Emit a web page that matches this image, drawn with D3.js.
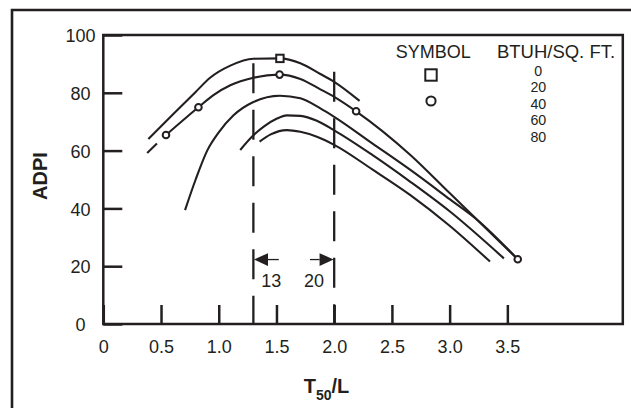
<!DOCTYPE html>
<html>
<head>
<meta charset="utf-8">
<script src="https://cdn.jsdelivr.net/npm/d3@7"></script>
<style>
  html, body { margin: 0; padding: 0; background: #ffffff; }
  svg { display: block; }
  text { font-family: "Liberation Sans", Arial, Helvetica, sans-serif; fill: #231f20; }
</style>
</head>
<body>
<svg id="chart" width="631" height="408"></svg>
<script>
// ---------- data ----------
const xTickValues = [0, 0.5, 1.0, 1.5, 2.0, 2.5, 3.0, 3.5];
const xTickLabels = ["0", "0.5", "1.0", "1.5", "2.0", "2.5", "3.0", "3.5"];
const yTickValues = [0, 20, 40, 60, 80, 100];
const yTickLabels = ["0", "20", "40", "60", "80", "100"];

// curve for 0 BTUH/sq.ft. (square)
const curve0 = [[0.39,64.0],[0.60,72.4],[0.80,80.3],[0.925,85.2],[1.10,89.4],[1.30,91.8],[1.53,91.9],[1.707,90.2],[1.88,86.5],[2.00,83.8],[2.22,77.2]];
// curve for 20 BTUH/sq.ft. (circles)
const curve1Dash = [[0.38,59.2],[0.543,65.4]];
const curve1 = [[0.543,65.4],[0.824,75.0],[0.954,79.2],[1.10,82.6],[1.30,85.2],[1.527,86.3],[1.707,84.8],[1.88,81.2],[2.00,78.6],[2.19,73.6],[2.66,58.5],[3.00,45.3],[3.24,36.0],[3.59,22.4]];
const curve2 = [[0.708,39.4],[0.80,50.0],[0.90,60.0],[1.00,66.3],[1.128,72.2],[1.30,76.8],[1.53,79.0],[1.707,78.1],[1.88,74.6],[2.00,71.7],[2.33,62.5],[2.66,53.3],[3.00,43.2],[3.24,36.0],[3.59,22.4]];
const curve3 = [[1.186,60.2],[1.30,65.3],[1.39,68.3],[1.50,71.0],[1.59,72.2],[1.707,72.0],[1.85,70.3],[2.00,67.0],[2.33,58.5],[2.66,49.2],[3.00,39.0],[3.47,22.7]];
const curve4 = [[1.354,63.1],[1.45,65.6],[1.59,67.1],[1.707,66.5],[1.85,64.8],[2.00,62.0],[2.33,53.5],[2.66,44.6],[3.00,34.0],[3.35,21.6]];

const squareMarkers = [[1.53, 91.9]];
const circleMarkers = [[0.543,65.4],[0.824,75.0],[1.527,86.3],[2.19,73.6],[3.59,22.4]];

// dashed reference lines: [x, top ADPI]
const refLines = [[1.3, 90.2], [2.0, 87.3]];
// dimension arrows: [from x, to x, y, label, label x]
const arrows = [[1.52, 1.3, 22.3, "13", 1.455], [1.79, 2.0, 22.3, "20", 1.825]];

const legendSymbols = ["square", "circle"];
const legendValues = ["0", "20", "40", "60", "80"];

// ---------- drawing ----------
const W = 631, H = 408;
const ink = "#231f20";
const svg = d3.select("#chart");

const x = d3.scaleLinear().domain([0, 4.5]).range([103.3, 622.8]);
const y = d3.scaleLinear().domain([0, 100]).range([324, 35]);

// outer frame (cropped at right/bottom)
svg.append("path")
  .attr("d", `M12,${H + 5} L12,10 L${W + 5},10`)
  .attr("fill", "none").attr("stroke", ink).attr("stroke-width", 2.6);

// plot frame
svg.append("rect")
  .attr("x", x(0)).attr("y", y(100))
  .attr("width", x(4.5) - x(0)).attr("height", y(0) - y(100))
  .attr("fill", "none").attr("stroke", ink).attr("stroke-width", 2.5);

// y axis
const yAxis = svg.append("g")
  .attr("transform", `translate(${x(0)},0)`)
  .call(d3.axisLeft(y).tickValues(yTickValues).tickSize(-19)
        .tickFormat((d, i) => yTickLabels[i]));
yAxis.select(".domain").remove();
yAxis.selectAll(".tick line").attr("stroke", ink).attr("stroke-width", 2.5);
yAxis.selectAll(".tick text")
  .attr("x", -22.8).attr("dy", null).attr("y", 6.6)
  .attr("text-anchor", "middle")
  .style("font-size", "18px")
  .attr("fill", ink);

// x axis
const xAxis = svg.append("g")
  .attr("transform", `translate(0,${y(0)})`)
  .call(d3.axisBottom(x).tickValues(xTickValues).tickSize(-19)
        .tickFormat((d, i) => xTickLabels[i]));
xAxis.select(".domain").remove();
xAxis.selectAll(".tick line").attr("stroke", ink).attr("stroke-width", 2.5);
xAxis.selectAll(".tick text")
  .attr("y", 29.3).attr("dy", null)
  .attr("text-anchor", "middle")
  .style("font-size", "18px")
  .attr("fill", ink);
svg.selectAll("g").attr("font-family", null).attr("font-size", null);

// axis titles
svg.append("text")
  .attr("transform", `translate(46.5,176) rotate(-90)`)
  .attr("text-anchor", "middle")
  .style("font-size", "20px").style("font-weight", "bold")
  .text("ADPI");

const xt = svg.append("text")
  .attr("x", 326.5).attr("y", 393)
  .attr("text-anchor", "middle")
  .style("font-size", "20px").style("font-weight", "bold");
xt.append("tspan").text("T");
xt.append("tspan").attr("dy", 7).style("font-size", "14px").text("50");
xt.append("tspan").attr("dy", -7).text("/L");

// dashed reference lines
svg.selectAll(".ref").data(refLines).enter().append("line")
  .attr("class", "ref")
  .attr("x1", d => x(d[0])).attr("x2", d => x(d[0]))
  .attr("y1", d => y(d[1])).attr("y2", y(0))
  .attr("stroke", ink).attr("stroke-width", 2.3)
  .attr("stroke-dasharray", "30,16.5");

// curves
const line = d3.line().x(d => x(d[0])).y(d => y(d[1])).curve(d3.curveMonotoneX);
[curve0, curve1, curve2, curve3, curve4].forEach(c => {
  svg.append("path").attr("d", line(c))
    .attr("fill", "none").attr("stroke", ink).attr("stroke-width", 2.1)
    .attr("stroke-linecap", "butt");
});
svg.append("path").attr("d", d3.line().x(d => x(d[0])).y(d => y(d[1]))(curve1Dash))
  .attr("fill", "none").attr("stroke", ink).attr("stroke-width", 2.1)
  .attr("stroke-dasharray", "13.5,30");

// markers
svg.selectAll(".sq").data(squareMarkers).enter().append("rect")
  .attr("class", "sq")
  .attr("x", d => x(d[0]) - 3.7).attr("y", d => y(d[1]) - 3.7)
  .attr("width", 7.4).attr("height", 7.4)
  .attr("fill", "#fff").attr("stroke", ink).attr("stroke-width", 2);
svg.selectAll(".ci").data(circleMarkers).enter().append("circle")
  .attr("class", "ci")
  .attr("cx", d => x(d[0])).attr("cy", d => y(d[1])).attr("r", 3.3)
  .attr("fill", "#fff").attr("stroke", ink).attr("stroke-width", 2);

// dimension arrows
arrows.forEach(a => {
  const x0 = x(a[0]), x1 = x(a[1]), yy = y(a[2]);
  const dir = Math.sign(x1 - x0);
  const tip = x1 - dir * 0.6;
  const base = tip - dir * 14;
  svg.append("line").attr("x1", x0).attr("x2", base).attr("y1", yy).attr("y2", yy)
    .attr("stroke", ink).attr("stroke-width", 1.3);
  svg.append("path")
    .attr("d", `M${tip},${yy} L${base},${yy - 6.4} L${base},${yy + 6.4} Z`)
    .attr("fill", ink);
  svg.append("text").attr("x", x(a[4])).attr("y", yy + 27.5)
    .attr("text-anchor", "middle").style("font-size", "18px").text(a[3]);
});

// legend
svg.append("text").attr("x", 433.3).attr("y", 58.3)
  .attr("text-anchor", "middle").style("font-size", "18px").text("SYMBOL");
svg.append("text").attr("x", 556).attr("y", 58.3)
  .attr("text-anchor", "middle").style("font-size", "18.5px").text("BTUH/SQ. FT.");
legendSymbols.forEach((s, i) => {
  const cx = 431, cy = 75 + i * 26;
  if (s === "square") {
    svg.append("rect").attr("x", cx - 5.7).attr("y", cy - 5.7)
      .attr("width", 11.4).attr("height", 11.4)
      .attr("fill", "none").attr("stroke", ink).attr("stroke-width", 2);
  } else {
    svg.append("circle").attr("cx", cx).attr("cy", cy).attr("r", 4.6)
      .attr("fill", "none").attr("stroke", ink).attr("stroke-width", 2);
  }
});
legendValues.forEach((v, i) => {
  svg.append("text").attr("x", 538.3).attr("y", 75.5 + i * 16.5)
    .attr("text-anchor", "middle").style("font-size", "14.2px")
    .text(v);
});
</script>
</body>
</html>
